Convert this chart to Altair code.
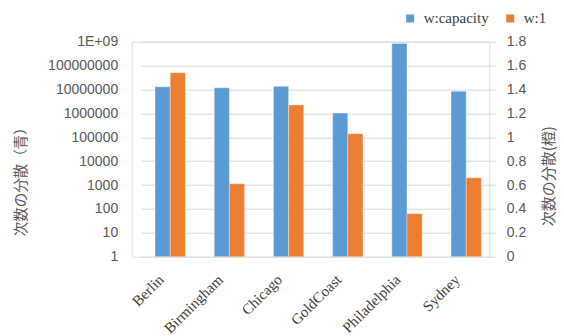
import altair as alt
import pandas as pd

cities = ["Berlin", "Birmingham", "Chicago", "GoldCoast", "Philadelphia", "Sydney"]
series_names = ["w:capacity", "w:1"]
capacity_var = [1.3e7, 1.18e7, 1.35e7, 1.03e6, 8.5e8, 8.5e6]
w1_var = [1.54, 0.61, 1.27, 1.03, 0.36, 0.66]
left_ticks = [1, 10, 100, 1000, 10000, 100000, 1000000, 10000000, 100000000, 1000000000]
right_ticks = [0, 0.2, 0.4, 0.6, 0.8, 1.0, 1.2, 1.4, 1.6, 1.8]
colors = ["#5B9BD5", "#ED7D31"]

df_cap = pd.DataFrame({"city": cities, "series": series_names[0], "value": capacity_var})
df_w1 = pd.DataFrame({"city": cities, "series": series_names[1], "value": w1_var})

W = 357.6
H = 215
SERIF = "'Liberation Serif', 'Times New Roman', serif"
SANS = "'Liberation Sans', Arial, sans-serif"

x_enc = alt.X(
    "city:N",
    sort=cities,
    scale=alt.Scale(range=[8.9, 364.1], paddingInner=0, paddingOuter=0),
    axis=alt.Axis(
        title=None,
        labelAngle=315,
        labelFont=SERIF,
        labelFontSize=15,
        labelColor="#404040",
        labelPadding=15,
        labelOffset=-14,
        domain=False,
        ticks=False,
        grid=False,
    ),
)
xoff_enc = alt.XOffset(
    "series:N",
    scale=alt.Scale(domain=series_names, paddingInner=0, paddingOuter=0.95),
)
color_enc = alt.Color(
    "series:N",
    scale=alt.Scale(domain=series_names, range=colors),
    legend=alt.Legend(
        title=None,
        orient="none",
        legendX=271,
        legendY=-31,
        direction="horizontal",
        symbolType="square",
        symbolSize=64,
        symbolStrokeWidth=0,
        labelFont=SERIF,
        labelFontSize=15,
        labelColor="#404040",
        labelOffset=6,
        columnPadding=14,
        padding=0,
    ),
)

blue = alt.Chart(df_cap).mark_bar(stroke="white", strokeWidth=0.6, strokeOpacity=0.6).encode(
    x=x_enc,
    xOffset=xoff_enc,
    y=alt.Y(
        "value:Q",
        stack=None,
        scale=alt.Scale(type="log", domain=[1, 1e9], nice=False),
        axis=alt.Axis(
            values=left_ticks,
            labelExpr="datum.value >= 1e9 ? '1E+09' : format(datum.value, 'd')",
            grid=True,
            gridColor="#D9D9D9",
            gridWidth=1,
            domain=False,
            ticks=False,
            labelPadding=14,
            labelFont=SANS,
            labelFontSize=14,
            labelColor="#595959",
            title="次数の分散（青）",
            titleFont="Noto Sans CJK JP",
            titleFontSize=14.5,
            titleFontWeight="normal",
            titleColor="#595959",
            titleAngle=270,
            titleAlign="center",
            titleBaseline="middle",
            titleX=-110,
            titleY=136,
        ),
    ),
    y2=alt.Y2(datum=1),
    color=color_enc,
)

orange = alt.Chart(df_w1).mark_bar(stroke="white", strokeWidth=0.6, strokeOpacity=0.6).encode(
    x=x_enc,
    xOffset=xoff_enc,
    y=alt.Y(
        "value:Q",
        scale=alt.Scale(domain=[0, 1.8], nice=False),
        axis=alt.Axis(
            orient="right",
            values=right_ticks,
            labelExpr="format(datum.value, '.1~f')",
            grid=False,
            domain=False,
            ticks=False,
            labelPadding=17,
            labelFont=SANS,
            labelFontSize=14,
            labelColor="#595959",
            title="次数の分散(橙)",
            titleFont="Noto Sans CJK JP",
            titleFontSize=15,
            titleFontWeight="normal",
            titleColor="#595959",
            titleAngle=270,
            titleAlign="center",
            titleBaseline="middle",
            titleX=59,
            titleY=134,
        ),
    ),
    color=color_enc,
)

chart = (
    alt.layer(blue, orange)
    .resolve_scale(y="independent")
    .properties(
        width=W,
        height=H,
        autosize=alt.AutoSizeParams(type="none"),
        padding={"left": 131.7, "top": 41.7, "right": 74.7, "bottom": 79.3},
    )
    .configure_view(stroke=None)
    .configure(background="white")
)

chart.save("out.html", embed_options={"renderer": "svg", "actions": False})
